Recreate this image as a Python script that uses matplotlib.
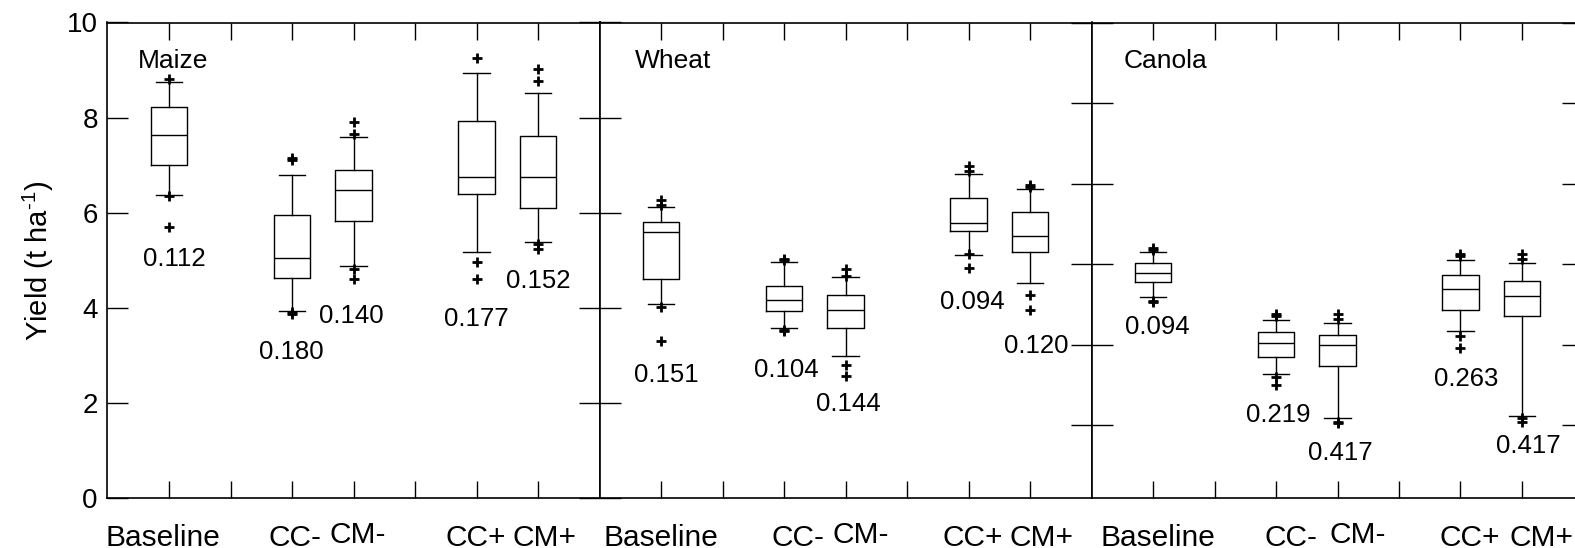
import matplotlib
matplotlib.use('Agg')
import matplotlib.pyplot as plt

plt.rcParams['font.family'] = ['Liberation Sans', 'DejaVu Sans']
plt.rcParams['mathtext.fontset'] = 'custom'
plt.rcParams['mathtext.rm'] = 'Liberation Sans'

crops = ['Maize', 'Wheat', 'Canola']
treatments = ['Baseline', 'CC-', 'CM-', 'CC+', 'CM+']
positions = [1, 3, 4, 6, 7]

# box statistics (t/ha)
maize_q1 = [7.00, 4.63, 5.82, 6.39, 6.10]
maize_med = [7.63, 5.04, 6.47, 6.75, 6.75]
maize_q3 = [8.22, 5.95, 6.89, 7.92, 7.62]
maize_lo = [6.36, 3.93, 4.87, 5.16, 5.38]
maize_hi = [8.74, 6.80, 7.60, 8.93, 8.52]
maize_fliers = [[8.81, 6.34, 5.69], [7.10, 7.14, 3.87, 3.90], [7.90, 7.66, 4.81, 4.61],
                [9.25, 4.96, 4.61], [9.03, 8.77, 5.33, 5.24]]
maize_cv = ['0.112', '0.180', '0.140', '0.177', '0.152']

wheat_q1 = [4.61, 3.93, 3.57, 5.61, 5.16]
wheat_med = [5.60, 4.16, 3.95, 5.78, 5.50]
wheat_q3 = [5.80, 4.46, 4.27, 6.30, 6.02]
wheat_lo = [4.08, 3.57, 2.99, 5.11, 4.52]
wheat_hi = [6.12, 4.97, 4.64, 6.82, 6.50]
wheat_fliers = [[6.27, 6.15, 4.02, 3.30], [5.03, 5.00, 3.52, 3.50], [4.81, 4.67, 2.79, 2.57],
                [6.98, 6.87, 5.12, 4.83], [6.58, 6.53, 4.26, 3.94]]
wheat_cv = ['0.151', '0.104', '0.144', '0.094', '0.120']

canola_q1 = [1.391, 0.925, 0.866, 1.213, 1.176]
canola_med = [1.445, 1.012, 0.996, 1.344, 1.302]
canola_q3 = [1.509, 1.080, 1.063, 1.430, 1.397]
canola_lo = [1.296, 0.820, 0.542, 1.085, 0.559]
canola_hi = [1.575, 1.153, 1.133, 1.525, 1.506]
canola_fliers = [[1.598, 1.59, 1.271, 1.265], [1.188, 1.18, 0.80, 0.75], [1.193, 1.16, 0.52, 0.515],
                 [1.56, 1.55, 1.054, 0.977], [1.56, 1.53, 0.543, 0.522]]
canola_cv = ['0.094', '0.219', '0.417', '0.263', '0.417']

# where the CV numbers sit (data coords)
maize_cv_x = [1.08, 2.99, 3.97, 5.99, 7.0]
maize_cv_y = [5.02, 3.06, 3.82, 3.77, 4.56]
wheat_cv_x = [1.08, 3.04, 4.05, 6.06, 7.1]
wheat_cv_y = [2.59, 2.68, 1.98, 4.11, 3.20]
canola_cv_x = [1.07, 3.03, 4.05, 6.1, 7.11]
canola_cv_y = [1.107, 0.565, 0.327, 0.789, 0.371]

# the category labels are not exactly under their ticks in the original
maize_lab_dx = [-0.1, 0.05, 0.065, -0.016, 0.106]
wheat_lab_dx = [0.0, 0.23, 0.24, 0.07, 0.18]
canola_lab_dx = [0.08, 0.25, 0.33, 0.15, 0.31]

panels = [
    (maize_q1, maize_med, maize_q3, maize_lo, maize_hi, maize_fliers, maize_cv, maize_cv_x, maize_cv_y, maize_lab_dx),
    (wheat_q1, wheat_med, wheat_q3, wheat_lo, wheat_hi, wheat_fliers, wheat_cv, wheat_cv_x, wheat_cv_y, wheat_lab_dx),
    (canola_q1, canola_med, canola_q3, canola_lo, canola_hi, canola_fliers, canola_cv, canola_cv_x, canola_cv_y,
     canola_lab_dx),
]
ylims = [(0, 10), (0, 10), (0.05, 3.0)]
title_x = [0.5, 0.57, 0.53]

W, H = 1575, 548
fig = plt.figure(figsize=(W / 100, H / 100), dpi=100)
lefts = [107.5, 599.5, 1091.5]
pw = 492
bottom_px, top_px = 497.7, 22.5

line = dict(color='black', linewidth=1)
for i, (crop, p) in enumerate(zip(crops, panels)):
    q1, med, q3, lo, hi, fl, cv, cx, cy, dx = p
    ax = fig.add_axes([lefts[i] / W, (H - bottom_px) / H, pw / W, (bottom_px - top_px) / H])
    stats = []
    for k in range(len(treatments)):
        stats.append(dict(q1=q1[k], med=med[k], q3=q3[k], whislo=lo[k], whishi=hi[k], fliers=fl[k]))
    ax.bxp(stats, positions=positions, widths=0.6, capwidths=0.43, showfliers=True,
           boxprops=line, whiskerprops=line, capprops=line, medianprops=line,
           flierprops=dict(marker='+', markersize=7, markeredgewidth=2, markeredgecolor='black'),
           manage_ticks=False)
    ax.set_xlim(0, 8)
    ax.set_ylim(*ylims[i])
    for s in ax.spines.values():
        s.set_linewidth(1.2)

    ax.set_xticks(range(1, 8))
    ax.tick_params(axis='x', direction='in', length=12, width=1, top=True, bottom=True,
                   labelbottom=False)
    if i == 0:
        ax.set_yticks(range(0, 11, 2))
        ax.tick_params(axis='y', direction='in', length=15, width=1, labelsize=20, pad=7,
                       right=False)
    elif i == 1:
        ax.set_yticks(range(0, 11, 2))
        ax.tick_params(axis='y', direction='inout', length=30, width=1, labelleft=False, right=False)
    else:
        ax.set_yticks([0.5, 1.0, 1.5, 2.0, 2.5, 3.0])
        ax.tick_params(axis='y', direction='inout', length=30, width=1, labelleft=False, right=True)

    ax.text(title_x[i], 0.919, crop, transform=ax.get_xaxis_transform(), fontsize=19,
            ha='left', va='center')
    for k in range(len(cv)):
        ax.text(cx[k], cy[k], cv[k], fontsize=18.5, ha='center', va='center')
    for k, t in enumerate(treatments):
        yoff = -0.0943 if t == 'CM-' else -0.1016
        ax.text(positions[k] + dx[k], yoff, t, transform=ax.get_xaxis_transform(), fontsize=21.5,
                ha='center', va='baseline')

fig.text(38 / W, (H - 261) / H, 'Yield (t ha$^{\\text{-1}}$)', rotation=90,
         fontsize=21, ha='center', va='center')

fig.savefig('out.png', dpi=100)
